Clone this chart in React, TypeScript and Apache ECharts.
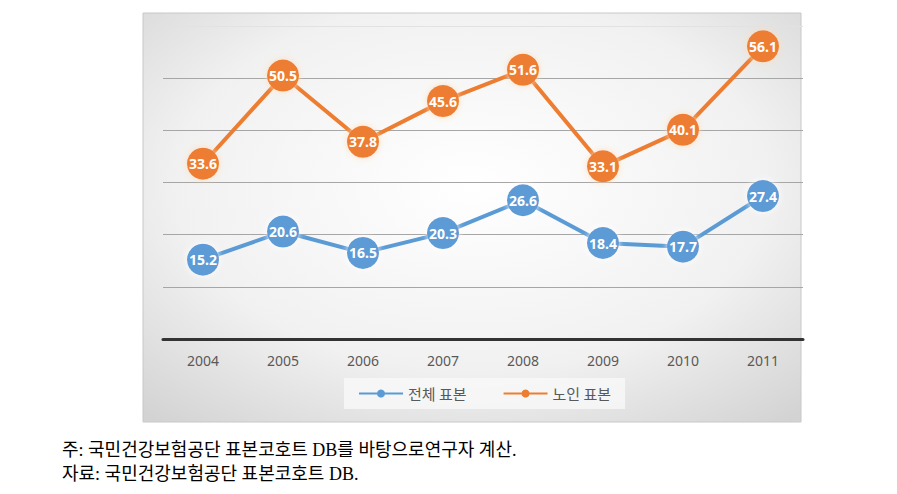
import React, { useEffect, useRef } from "react";
import * as echarts from "echarts";

const years = ["2004", "2005", "2006", "2007", "2008", "2009", "2010", "2011"];
const totalSample = [15.2, 20.6, 16.5, 20.3, 26.6, 18.4, 17.7, 27.4];
const elderlySample = [33.6, 50.5, 37.8, 45.6, 51.6, 33.1, 40.1, 56.1];
const seriesNames = ["전체 표본", "노인 표본"];
const notes = [
  "주: 국민건강보험공단 표본코호트 DB를 바탕으로연구자 계산.",
  "자료: 국민건강보험공단 표본코호트 DB.",
];

export default function App() {
  const ref = useRef<HTMLDivElement>(null);
  useEffect(() => {
    if (!ref.current) return;
    const chart = echarts.init(ref.current, null, { renderer: "svg" });
    const label = {
      show: true,
      position: "inside",
      color: "#ffffff",
      fontSize: 14,
      fontWeight: "bold",
      fontFamily: "Noto Sans",
      formatter: (p: any) => p.value.toFixed(1),
    };
    const noteFont = '18px "Liberation Serif", "Noto Sans CJK KR", serif';
    chart.setOption({
      animation: false,
      graphic: [
        {
          type: "rect",
          z: -10,
          shape: { x: 143, y: 13, width: 658, height: 409 },
          style: {
            fill: new echarts.graphic.RadialGradient(0.5, 0.42, 0.75, [
              { offset: 0, color: "#ffffff" },
              { offset: 0.6, color: "#f1f1f1" },
              { offset: 1, color: "#d3d3d3" },
            ]),
            stroke: "#c8c8c8",
            lineWidth: 1,
          },
        },
        {
          type: "text",
          left: 62,
          top: 441,
          style: { text: notes[0], font: noteFont, fill: "#000000" },
        },
        {
          type: "text",
          left: 62,
          top: 465,
          style: { text: notes[1], font: noteFont, fill: "#000000" },
        },
      ],
      grid: { left: 163, top: 26, width: 640, height: 313 },
      legend: {
        left: 344,
        top: 378,
        padding: [8, 14],
        backgroundColor: "rgba(250,250,250,0.75)",
        itemGap: 36,
        itemWidth: 44,
        itemHeight: 10,
        textStyle: {
          color: "#595959",
          fontSize: 15,
          fontFamily: "Noto Sans CJK KR",
        },
        data: seriesNames,
      },
      xAxis: {
        type: "category",
        data: years,
        boundaryGap: true,
        axisLine: { lineStyle: { color: "#333333", width: 3 } },
        axisTick: { show: false },
        axisLabel: {
          color: "#595959",
          fontSize: 14,
          fontFamily: "Noto Sans",
          margin: 14,
        },
      },
      yAxis: {
        type: "value",
        min: 0,
        max: 60,
        interval: 10,
        axisLabel: { show: false },
        axisLine: { show: false },
        axisTick: { show: false },
        splitLine: {
          lineStyle: {
            color: ["#a6a6a6", "#a6a6a6", "#a6a6a6", "#a6a6a6", "#a6a6a6", "#a6a6a6", "#e2e2e2"],
            width: 1,
          },
        },
      },
      series: [
        {
          name: seriesNames[0],
          type: "line",
          data: totalSample,
          symbol: "circle",
          symbolSize: 32,
          itemStyle: { color: "#5B9BD5", shadowBlur: 6, shadowColor: "rgba(255,255,255,0.9)" },
          lineStyle: { color: "#5B9BD5", width: 4 },
          label,
        },
        {
          name: seriesNames[1],
          type: "line",
          data: elderlySample,
          symbol: "circle",
          symbolSize: 32,
          itemStyle: { color: "#ED7D31", shadowBlur: 6, shadowColor: "rgba(255,220,180,0.9)" },
          lineStyle: { color: "#ED7D31", width: 4 },
          label,
        },
      ],
    });
    return () => chart.dispose();
  }, []);
  return (
    <div
      ref={ref}
      style={{ position: "fixed", left: 0, top: 0, width: 897, height: 494, background: "#ffffff" }}
    />
  );
}
